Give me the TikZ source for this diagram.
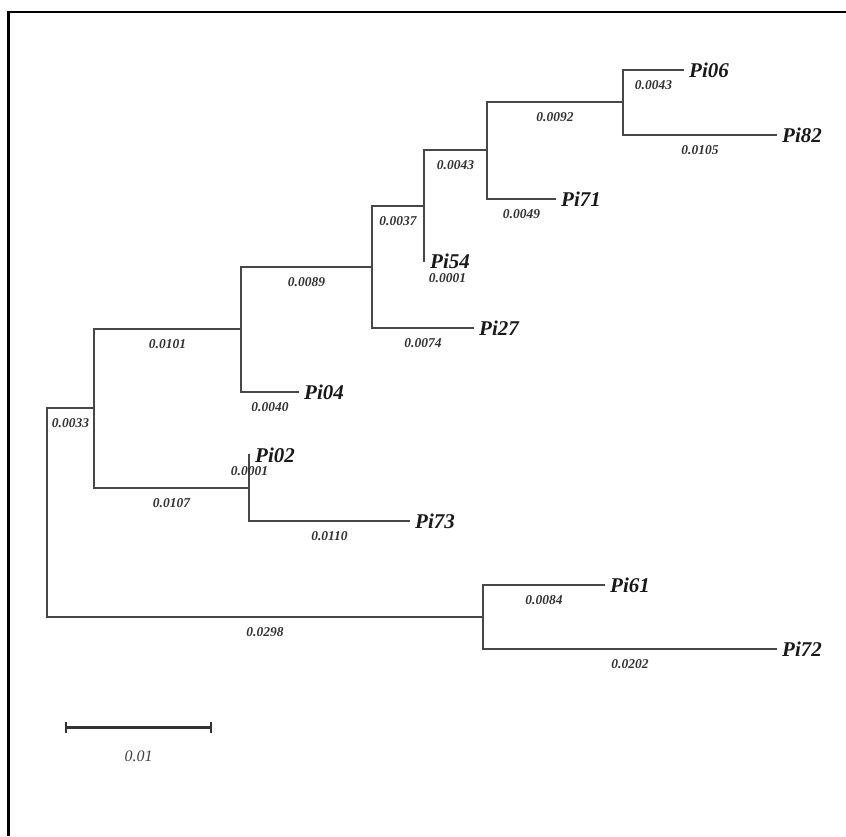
\documentclass[tikz,border=0pt]{standalone}
\usepackage{fontspec}
\setmainfont{Liberation Serif}
\usetikzlibrary{positioning,arrows.meta}

\tikzset{
  taxon/.style={font=\fontsize{21}{21}\selectfont\bfseries\itshape, text=black!90, anchor=west, inner sep=5pt},
  blen/.style={font=\fontsize{13.5}{13.5}\selectfont\bfseries\itshape, text=black!80, pos=0.75, below=10pt, inner sep=0pt},
  elbow/.style={to path={|- (\tikztotarget) \tikztonodes}},
  scalebar/.style={line width=3pt, draw=black!80, {Bar[width=11pt,line width=2pt]}-{Bar[width=11pt,line width=2pt]}}
}

\begin{document}
\begin{tikzpicture}[x=1pt,y=-1pt]
 \useasboundingbox (0,0) rectangle (846,836);
 \draw[line width=2.2pt] (8.5,836) -- (8.5,12) -- (846,12);

 \coordinate (root) at (47,512);
 \coordinate (n1) at (94,408);
 \coordinate (n2) at (241,329);
 \coordinate (n3) at (372,267);
 \coordinate (n4) at (424,206);
 \coordinate (n5) at (487,150);
 \coordinate (n6) at (623,102);
 \coordinate (n7) at (249,488);
 \coordinate (n8) at (483,617);

 \node[taxon] (Pi06) at (684,70) {Pi06};
 \node[taxon] (Pi82) at (777,135) {Pi82};
 \node[taxon] (Pi71) at (556,199) {Pi71};
 \node[taxon] (Pi54) at (425,261) {Pi54};
 \node[taxon] (Pi27) at (474,328) {Pi27};
 \node[taxon] (Pi04) at (299,392) {Pi04};
 \node[taxon] (Pi02) at (250,455) {Pi02};
 \node[taxon] (Pi73) at (410,521) {Pi73};
 \node[taxon] (Pi61) at (605,585) {Pi61};
 \node[taxon] (Pi72) at (777,649) {Pi72};

 \path[elbow, every edge/.style={draw=black!72, line width=1.4pt}]
  (root) edge node[blen] {0.0033} (n1) edge node[blen] {0.0298} (n8)
  (n1) edge node[blen] {0.0101} (n2) edge node[blen] {0.0107} (n7)
  (n2) edge node[blen] {0.0089} (n3) edge node[blen] {0.0040} (Pi04)
  (n3) edge node[blen] {0.0037} (n4) edge node[blen] {0.0074} (Pi27)
  (n4) edge node[blen] {0.0043} (n5) edge node[blen, xshift=23pt, below=12pt] {0.0001} (Pi54)
  (n5) edge node[blen] {0.0092} (n6) edge node[blen] {0.0049} (Pi71)
  (n6) edge node[blen] {0.0043} (Pi06) edge node[blen] {0.0105} (Pi82)
  (n7) edge node[blen, below=11pt] {0.0001} (Pi02) edge node[blen] {0.0110} (Pi73)
  (n8) edge node[blen] {0.0084} (Pi61) edge node[blen] {0.0202} (Pi72);

 \coordinate (sbl) at (65,727);
 \coordinate (sbr) at (212,727);
 \draw[scalebar] (sbl) -- (sbr) node[midway, below=22pt, inner sep=0pt, text=black!75, font=\fontsize{16}{16}\selectfont\itshape] {0.01};
\end{tikzpicture}
\end{document}
